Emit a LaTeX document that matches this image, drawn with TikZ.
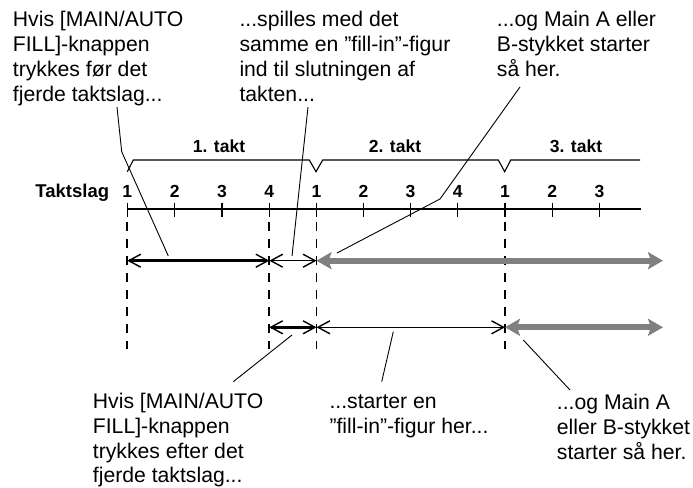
\documentclass[tikz,border=0pt]{standalone}
\usepackage{fontspec}
\setmainfont{Liberation Sans}
\usetikzlibrary{arrows.meta}
\definecolor{arrowgray}{RGB}{128,128,128}
\tikzset{
  barbtip/.tip={Straight Barb[length=12pt,width=13pt,line width=1.4pt]},
  graytip/.tip={Stealth[length=15pt,width=17pt,inset=3pt]},
}
\begin{document}
\begin{tikzpicture}[x=1pt,y=-1pt,
  txt/.style={anchor=north west, inner sep=0pt, align=left, font=\fontsize{21.2}{24.8}\selectfont},
  lbl/.style={inner sep=0pt, font=\fontsize{17.5}{20}\selectfont\bfseries},
  beat/.style={lbl, anchor=base},
  axisline/.style={line width=1.8pt},
  tickmark/.style={line width=1.4pt},
  bracketline/.style={line width=1.1pt, line join=miter},
  guide/.style={line width=0.9pt},
  dashline/.style={line width=1.8pt, dash pattern=on 9pt off 8pt},
  thickblack/.style={line width=3.5pt, barbtip-barbtip},
  thinblack/.style={line width=1.2pt, barbtip-barbtip},
  grayarrow/.style={line width=6pt, draw=arrowgray, graytip-graytip},
]
\useasboundingbox (0,0) rectangle (693,487);

% texts
\node[txt] (t1) at (12.7,11.3) {Hvis [MAIN/AUTO\\FILL]-knappen\\trykkes før det\\fjerde taktslag...};
\node[txt] (t2) at (239.3,11.3) {...spilles med det\\samme en ”fill-in”-figur\\ind til slutningen af\\takten...};
\node[txt] (t3) at (496.7,11.3) {...og Main A eller\\B-stykket starter\\så her.};
\node[txt] (b1) at (92.7,393) {Hvis [MAIN/AUTO\\FILL]-knappen\\trykkes efter det\\fjerde taktslag...};
\node[txt] (b2) at (329.3,395) {...starter en\\”fill-in”-figur her...};
\node[txt] (b3) at (556.7,394) {...og Main A\\eller B-stykket\\starter så her.};

% measure labels
\node[lbl, anchor=base] (m1) at (219,152.7) {1. takt};
\node[lbl, anchor=base] (m2) at (395,152.7) {2. takt};
\node[lbl, anchor=base] (m3) at (576,152.7) {3. takt};
\node[lbl, anchor=base east, font=\fontsize{18.5}{20}\selectfont\bfseries] (tl) at (109.3,197.3) {Taktslag};

% bracket
\draw[bracketline] (127.3,171.7) -- (133.3,160) -- (309.3,160) -- (316,171.7) -- (322.7,160)
  -- (498.3,160) -- (504.7,171.7) -- (510.7,160) -- (640,160);

% beats
\foreach \i/\x/\n in {1/127.3/1,2/174.7/2,3/222/3,4/269.3/4,5/316.5/1,6/363.5/2,7/410.5/3,8/457.7/4,9/505/1,10/552.3/2,11/599.5/3}{
  \coordinate (k\i) at (\x,209.3);
  \node[beat] (n\i) at (\x,197.3) {\n};
  \draw[tickmark] (\x,202.5) -- (\x,216.5);
}
\coordinate (axend) at (641,209.3);
\draw[axisline] (k1) -- (axend);

% dashed lines
\foreach \i in {1,4,5,9}{
  \draw[dashline] ([yshift=-12.7pt]k\i) -- ([yshift=-140pt]k\i);
}

% row 1 arrows
\coordinate (r1a) at (127.3,260.7);
\coordinate (r1b) at (269.3,260.7);
\coordinate (r1c) at (316.5,260.7);
\coordinate (r1d) at (663,260.7);
\draw[thickblack] (r1a) -- (r1b);
\draw[thinblack] (r1b) -- (r1c);
\draw[grayarrow] (r1c) -- (r1d);

% row 2 arrows
\coordinate (r2a) at (269.3,327.3);
\coordinate (r2b) at (316.5,327.3);
\coordinate (r2c) at (505,327.3);
\coordinate (r2d) at (663,327.3);
\draw[thickblack] (r2a) -- (r2b);
\draw[thinblack] (r2b) -- (r2c);
\draw[grayarrow] (r2c) -- (r2d);

% leader lines
\coordinate (g1a) at (117,107);
\coordinate (g1b) at (121.7,151.7);
\coordinate (g1c) at (168.3,256);
\draw[guide] (g1a) -- (g1b) -- (g1c);
\coordinate (g2a) at (308,107);
\coordinate (g2b) at (292,256);
\draw[guide] (g2a) -- (g2b);
\coordinate (g3a) at (520,87);
\coordinate (g3b) at (440,199);
\coordinate (g3c) at (337,253);
\draw[guide] (g3a) -- (g3b) -- (g3c);
\coordinate (g4a) at (292,335);
\coordinate (g4b) at (233.3,381.7);
\draw[guide] (g4a) -- (g4b);
\coordinate (g5a) at (393.3,331.7);
\coordinate (g5b) at (381.7,381.7);
\draw[guide] (g5a) -- (g5b);
\coordinate (g6a) at (523.3,340);
\coordinate (g6b) at (570,390);
\draw[guide] (g6a) -- (g6b);
\end{tikzpicture}
\end{document}
